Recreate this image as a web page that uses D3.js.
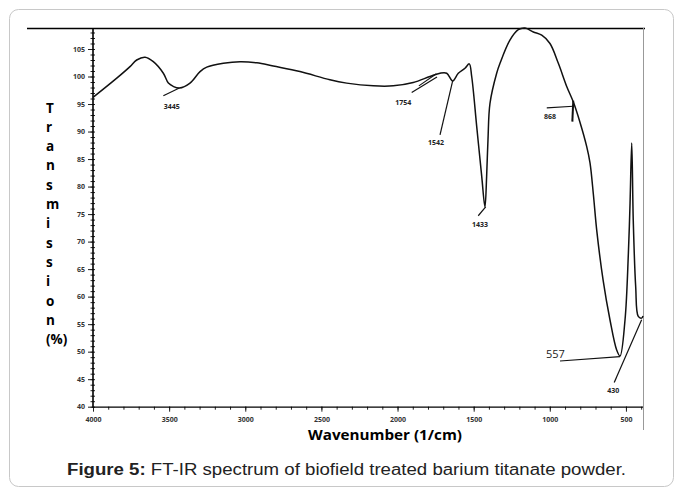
<!DOCTYPE html>
<html>
<head>
<meta charset="utf-8">
<script src="https://cdn.jsdelivr.net/npm/d3@7"></script>
<style>
  body { margin: 0; background: #fff; }
  svg { display: block; }
</style>
</head>
<body>
<svg id="chart"></svg>
<script>
// spectrum: wavenumber (1/cm) and transmission (%)
const wavenumbers = [4000, 3844, 3757, 3713, 3658, 3604, 3538, 3505, 3473, 3433, 3363, 3297, 3253, 3144, 3034, 2924, 2816, 2641, 2444, 2334, 2159, 2028, 1897, 1787, 1721, 1677, 1638, 1601, 1557, 1529, 1513, 1480, 1447, 1426, 1415, 1406, 1393, 1349, 1327, 1262, 1207, 1163, 1108, 1053, 999, 944, 889, 846, 802, 758, 736, 714, 692, 650, 605, 561, 539, 506, 484, 473, 462, 452, 436, 419, 397, 388];
const transmission = [96.2, 99.7, 101.8, 103.0, 103.5, 102.7, 100.6, 98.8, 98.2, 97.9, 98.8, 100.9, 101.7, 102.4, 102.7, 102.5, 101.9, 100.9, 99.4, 98.8, 98.3, 98.3, 98.9, 100.0, 100.6, 100.6, 99.2, 100.6, 101.5, 102.3, 100.0, 90.9, 81.8, 76.3, 81.8, 88.5, 95.1, 100.6, 102.4, 106.6, 108.5, 108.8, 108.1, 107.5, 106.0, 102.4, 98.2, 95.4, 91.7, 87.3, 84.3, 78.6, 72.1, 63.0, 55.8, 50.3, 49.2, 55.8, 67.9, 77.0, 87.9, 73.9, 61.8, 56.4, 56.1, 56.5];

const xTicks = [4000, 3500, 3000, 2500, 2000, 1500, 1000, 500];
const yTicks = [40, 45, 50, 55, 60, 65, 70, 75, 80, 85, 90, 95, 100, 105];

// peak labels: text, label anchor, leader line start/end (wavenumber, transmission)
const peakLabels = ["3445", "1754", "1542", "1433", "868", "557", "430"];
const labelAt = [[3483, 94.1], [1962, 94.8], [1747, 87.6], [1458, 72.7], [999, 92.3], [963, 48.85], [583, 42.5]];
const leaderFrom = [[3538, 96.5], [1907, 97.1], [1721, 89.4], [1470, 74.7], [1020, 94.3], [933, 48.3], [577, 44.4]];
const leaderTo = [[3433, 97.9], [1741, 99.9], [1638, 99.2], [1421, 76.3], [846, 94.6], [539, 49.1], [397, 55.8]];

const yLabelLetters = ["T", "r", "a", "n", "s", "m", "i", "s", "s", "i", "o", "n", "(%)"];

const width = 683, height = 496;
const plotLeft = 93, plotRight = 643, plotTop = 28, plotBottom = 406.7;

const svg = d3.select("#chart").attr("width", width).attr("height", height);

// outer frame
svg.append("rect")
  .attr("x", 9.5).attr("y", 9.5)
  .attr("width", 664).attr("height", 477)
  .attr("rx", 9)
  .attr("fill", "none")
  .attr("stroke", "#c8c8c8");

const x = d3.scaleLinear().domain([4000, 388]).range([plotLeft, plotRight]);
const y = d3.scaleLinear().domain([40, 105]).range([plotBottom, 49]);

// top rule and right border
svg.append("line")
  .attr("x1", 27).attr("x2", 645).attr("y1", plotTop + 0.5).attr("y2", plotTop + 0.5)
  .attr("stroke", "#000").attr("stroke-width", 1.3);
svg.append("line")
  .attr("x1", plotRight + 0.5).attr("x2", plotRight + 0.5).attr("y1", plotTop).attr("y2", 430)
  .attr("stroke", "#999").attr("stroke-width", 1);

// y axis
const yMinor = d3.range(40, 109, 1);
svg.append("g")
  .attr("transform", `translate(${plotLeft},0)`)
  .call(d3.axisLeft(y).tickValues(yMinor).tickSize(2.5).tickFormat(""))
  .call(g => g.select(".domain").remove());
svg.append("g")
  .attr("transform", `translate(${plotLeft},0)`)
  .call(d3.axisRight(y).tickValues(yMinor).tickSize(2).tickFormat(""))
  .call(g => g.select(".domain").remove());
svg.append("g")
  .attr("class", "y-axis")
  .attr("transform", `translate(${plotLeft},0)`)
  .call(d3.axisLeft(y).tickValues(yTicks).tickSize(5).tickPadding(3))
  .call(g => g.select(".domain").remove());
svg.append("line")
  .attr("x1", plotLeft).attr("x2", plotLeft).attr("y1", plotTop).attr("y2", plotBottom + 1)
  .attr("stroke", "#000").attr("stroke-width", 1.6);

// x axis
const xMinor = d3.range(3900, 388, -100);
svg.append("g")
  .attr("transform", `translate(0,${plotBottom})`)
  .call(d3.axisBottom(x).tickValues(xMinor).tickSize(3).tickFormat(""))
  .call(g => g.select(".domain").remove());
svg.append("g")
  .attr("class", "x-axis")
  .attr("transform", `translate(0,${plotBottom})`)
  .call(d3.axisBottom(x).tickValues(xTicks).tickSize(5).tickPadding(5).tickFormat(d3.format("d")))
  .call(g => g.select(".domain").remove());
svg.append("line")
  .attr("x1", plotLeft).attr("x2", plotRight).attr("y1", plotBottom + 0.5).attr("y2", plotBottom + 0.5)
  .attr("stroke", "#000").attr("stroke-width", 1.3);

svg.selectAll(".tick line").attr("stroke", "#222");
svg.selectAll(".x-axis text, .y-axis text")
  .attr("fill", "#333")
  .style("font-family", "'Open Sans', sans-serif")
  .style("font-size", "7px")
  .style("font-weight", "bold");

// spectrum
const points = wavenumbers.map((w, i) => [w, transmission[i]]);
svg.append("path")
  .datum(points)
  .attr("fill", "none")
  .attr("stroke", "#111")
  .attr("stroke-width", 1.5)
  .attr("stroke-linejoin", "round")
  .attr("d", d3.line().x(d => x(d[0])).y(d => y(d[1])).curve(d3.curveCatmullRom.alpha(0.5)));

// leader lines
svg.selectAll(".leader")
  .data(peakLabels)
  .enter()
  .append("line")
  .attr("class", "leader")
  .attr("x1", (d, i) => x(leaderFrom[i][0]))
  .attr("y1", (d, i) => y(leaderFrom[i][1]))
  .attr("x2", (d, i) => x(leaderTo[i][0]))
  .attr("y2", (d, i) => y(leaderTo[i][1]))
  .attr("stroke", "#111")
  .attr("stroke-width", 1.2);

// small extra strokes of the 1754 and 868 markers
svg.append("line")
  .attr("x1", x(1860)).attr("y1", y(98.3))
  .attr("x2", x(1745)).attr("y2", y(100.5))
  .attr("stroke", "#111").attr("stroke-width", 1.1);
svg.append("line")
  .attr("x1", x(846)).attr("y1", y(95.6))
  .attr("x2", x(852)).attr("y2", y(91.8))
  .attr("stroke", "#111").attr("stroke-width", 2);

svg.selectAll(".peak-label")
  .data(peakLabels)
  .enter()
  .append("text")
  .attr("class", "peak-label")
  .attr("x", (d, i) => x(labelAt[i][0]))
  .attr("y", (d, i) => y(labelAt[i][1]))
  .attr("text-anchor", "middle")
  .attr("fill", "#222")
  .style("font-family", "'Open Sans', sans-serif")
  .style("font-size", d => d === "557" ? "11px" : "7px")
  .style("font-weight", d => d === "557" ? "normal" : "bold")
  .text(d => d);

// stacked y-axis title
svg.selectAll(".y-title")
  .data(yLabelLetters)
  .enter()
  .append("text")
  .attr("class", "y-title")
  .attr("x", 46)
  .attr("y", (d, i) => 112.5 + i * 19.3)
  .style("font-family", "'Open Sans', sans-serif")
  .style("font-size", "13.5px")
  .style("font-weight", "bold")
  .text(d => d);

// x-axis title
svg.append("text")
  .attr("x", 385)
  .attr("y", 440)
  .attr("text-anchor", "middle")
  .attr("textLength", 154)
  .attr("lengthAdjust", "spacingAndGlyphs")
  .style("font-family", "'Open Sans', sans-serif")
  .style("font-size", "14px")
  .style("font-weight", "bold")
  .text("Wavenumber (1/cm)");

// caption
const caption = svg.append("text")
  .attr("x", 346.5)
  .attr("y", 475)
  .attr("text-anchor", "middle")
  .attr("textLength", 559)
  .attr("lengthAdjust", "spacingAndGlyphs")
  .attr("fill", "#222")
  .style("font-family", "'Liberation Sans', Arial, sans-serif")
  .style("font-size", "16px");
caption.append("tspan").style("font-weight", "bold").text("Figure 5:");
caption.append("tspan").text(" FT-IR spectrum of biofield treated barium titanate powder.");
</script>
</body>
</html>
